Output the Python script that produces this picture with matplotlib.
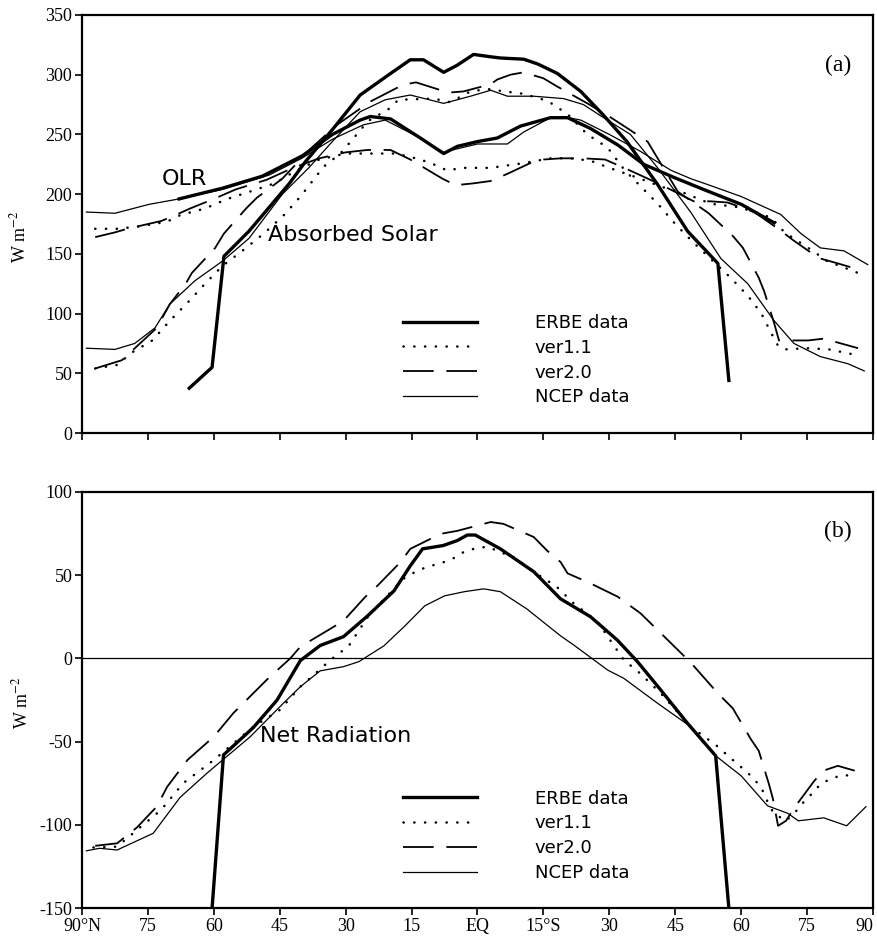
import numpy as np
import matplotlib
matplotlib.use("Agg")
import matplotlib.pyplot as plt

plt.rcParams['font.family'] = ['Liberation Serif', 'DejaVu Serif']
plt.rcParams['mathtext.fontset'] = 'stix'
plt.rcParams['axes.unicode_minus'] = False

# latitude axis: north positive, plotted from 90N (left) to 90S (right)
xtick_pos = [90, 75, 60, 45, 30, 15, 0, -15, -30, -45, -60, -75, -90]
xtick_lab = ['90°N', '75', '60', '45', '30', '15', 'EQ', '15°S', '30', '45', '60', '75', '90']
labels = ['ERBE data', 'ver1.1', 'ver2.0', 'NCEP data']

# ---- (a) OLR ----
olr_erbe_lat = [67.9, 58, 49, 39.9, 33, 26.7, 24.4, 19.8, 13, 7.7, 4.6, 0, -4.5, -9.8, -16.6, -20.5,
                -25.7, -32, -37.8, -44.7, -52.4, -60, -67.5]
olr_erbe = [196, 205, 215, 232, 250, 262, 265, 263, 247, 234, 240, 244, 247, 257, 264, 264,
            255, 241, 225, 214, 202.5, 191.5, 176]

olr_ncep_lat = [89, 82.5, 74.7, 67.9, 58, 47.4, 40, 33, 26, 21, 13, 7.7, 4.6, 0, -3, -6.8, -10.5,
                -16.6, -19.5, -23.5, -30, -37, -44, -48.5, -52.4, -60, -69, -73.6, -78, -83.4, -88.8]
olr_ncep = [185, 184, 191.5, 196, 204, 216, 230, 246, 258, 262, 247, 235, 238, 242, 242, 242, 252,
            264, 265, 262, 250, 236, 220, 213, 208, 198, 183, 167, 155, 152.5, 141]

olr_v11_lat = [87, 82, 76.8, 70.6, 67.6, 62, 56.9, 51.5, 46.2, 41.6, 36, 30, 25, 18.5, 13, 10, 7, 3,
               -3, -10.5, -16.6, -21, -25.7, -30, -37, -42, -47, -53, -59.5, -64, -67, -69, -71.5,
               -74, -76.5, -79.5, -84.5, -86.6]
olr_v11 = [171, 171, 173, 177, 182.5, 188, 196, 202.5, 209, 219, 229, 234, 234, 234, 229, 225, 220, 222,
           222, 226, 230, 230, 228, 222, 213, 206, 201, 192, 189, 184, 180, 171, 164,
           158, 152, 144, 137, 134]

olr_v20_lat = [87, 82.5, 79.7, 72, 69, 65.4, 60, 55, 48, 42, 36, 30, 25, 19.8, 15.3, 8, 5, 1, -3,
               -6.8, -12, -15, -19, -24, -29, -34, -41.7, -49.2, -53, -56.9, -63, -68.4, -72,
               -75.9, -78.1, -82, -86.6]
olr_v20 = [164, 168, 171, 177.5, 182, 188, 196, 204, 212, 222, 230, 235, 237, 237, 229, 213, 207.5, 209, 211,
           217, 226, 229, 230, 230, 229, 221, 208, 194, 194, 193, 185, 171, 161,
           151, 146, 142, 137]

# ---- (a) Absorbed solar ----
asr_erbe_lat = [65.6, 60.4, 57.7, 52, 47.4, 42.8, 39.2, 32.8, 26.7, 19.8, 15.3, 12.3, 7.7, 4.6, 0.9,
                -3, -5.2, -10.5, -13.7, -18.2, -23.5, -28.7, -34, -41, -47.8, -54.7, -57.2]
asr_erbe = [37.5, 55, 148, 169, 189, 209, 227, 255, 283, 301, 312.5, 312.5, 302, 308, 317,
            315, 314, 313, 309, 301, 286, 266, 244, 208, 169, 142, 44]

asr_ncep_lat = [89, 82.5, 78, 73.4, 70, 64.3, 58, 52, 44.4, 38.4, 32.8, 26.7, 21, 15.3, 7.7, 1.6,
                -3, -6.8, -12.8, -19.6, -24.1, -28.7, -34.8, -41, -48.5, -55.4, -61.5, -67.5,
                -72, -78, -84.3, -88]
asr_ncep = [71, 70, 75, 88, 108, 127.5, 144, 163, 200, 222, 245, 269, 279, 283, 276, 282,
            287, 282, 282, 280, 275, 264, 250, 222, 185, 146, 125, 94,
            75, 64, 58, 52]

asr_v11_lat = [87, 82, 78.6, 74, 70, 66, 62, 58, 53, 48.3, 43.9, 40.3, 35, 31.2, 27, 25, 20.3, 18,
               10, 6.2, 1.6, -2.3, -6.2, -10.5, -16, -20.5, -25, -29.6, -33.5, -37, -41, -45, -49,
               -53, -57.6, -61.5, -64.6, -66.8, -68.4, -70, -75, -80, -86.6]
asr_v11 = [54, 57, 67.5, 77.5, 94, 109, 125, 140, 154, 168, 183, 198, 223, 234, 252, 261, 271, 279,
           280, 277, 286, 288, 286, 284, 278, 267, 250, 239, 220, 207, 192, 175, 160,
           146, 130, 115, 100, 84, 73, 70, 71, 70, 65]

asr_v20_lat = [87, 80.9, 79, 73, 70, 66.4, 65, 59.7, 57.7, 52.5, 50.2, 44.4, 38, 32, 24.4, 17, 14,
               6.6, 3.2, -3, -4.5, -7.5, -10.5, -15, -18.2, -25, -30, -34.6, -38.7, -45.6, -52.6,
               -58.1, -60.4, -64, -65.2, -67.5, -68.6, -75.2, -78.8, -86.6]
asr_v20 = [54, 61, 67.5, 88, 108, 125, 134, 155, 167, 188.6, 197, 213, 238, 258, 277.5, 291.5, 293.6,
           285, 286, 292, 296, 300, 302, 297, 290, 276, 265, 254, 244, 202, 184,
           165, 155, 130, 119, 92, 77.5, 77.5, 79, 71]

# ---- (b) Net radiation ----
net_erbe_lat = [60.4, 57.8, 51, 45.6, 40.3, 35.8, 30.5, 25, 19, 15.3, 12.5, 7.8, 4.6, 2.3, 0.5, -5.2,
                -12.8, -18.9, -25.7, -31.8, -36.4, -41.7, -47.8, -54.2, -57.2]
net_erbe = [-150, -58, -41.5, -25, -1.3, 7.7, 13, 25.5, 40.5, 55.5, 65.7, 67.7, 70.7, 74, 74, 65.7,
            52, 35.7, 25, 11, -2, -19, -39, -58.5, -150]

net_ncep_lat = [89, 86, 82, 73.8, 67.7, 61.6, 51.7, 44.2, 40.3, 35.8, 30.5, 27, 21.3, 16.5, 12, 7.5,
                3, -1.4, -5.2, -11.2, -18.9, -21.9, -29.6, -33.3, -41, -48.5, -54.2, -60, -66,
                -70.6, -73, -78.8, -84, -88.4]
net_ncep = [-115.5, -114, -115, -105, -83.5, -69, -47, -27, -17, -7.5, -5, -2, 7.5, 19.5, 31.5, 37.5,
            40, 41.7, 40, 29.7, 13.5, 8, -7, -12, -27, -41, -58.5, -70.5, -88.5,
            -93, -97.5, -95.7, -100.5, -89]

net_v11_lat = [87.4, 82, 77.5, 72, 67, 60, 51, 45, 40.3, 36, 33.9, 31.7, 29.4, 27.8, 24.8, 16.9, 14.1,
               11.4, 8.4, 5.7, 3.2, 0.5, -2.3, -5.2, -8, -15, -17.8, -21.9, -27.3, -33.3, -37,
               -41.7, -48.5, -52.4, -54.7, -57, -59.2, -61.5, -63.3, -64.9, -66, -67.4, -70.2,
               -72.4, -74.3, -76.3, -78.1, -80.9, -83.4, -86.1]
net_v11 = [-113.5, -113, -103, -91, -75, -61, -41, -31, -17, -7, -2, 2.7, 7, 13.5, 25.5, 47.7, 52,
           55, 57, 59.7, 63.7, 66, 67, 63.7, 61, 48, 43.5, 33, 22, -1, -9,
           -21, -41, -48.5, -53, -58.5, -63.5, -68.7, -73.5, -79.5, -86, -93, -97.5,
           -92, -86, -80.7, -75.3, -71.7, -70, -71]

net_v20_lat = [87, 82, 77.5, 73, 70.6, 66, 60, 55.6, 48, 42.6, 40.3, 33.5, 30.5, 25.5, 22.8, 17.5,
               15.3, 8.4, 4.6, -3, -5.9, -12.8, -15.9, -18.9, -20.5, -25.7, -31.9, -37.1, -43.3,
               -48.5, -54.7, -58.1, -62.2, -64, -66.3, -67.2, -68.4, -70.2, -72, -76.5, -78.6,
               -82, -86.6]
net_v20 = [-112.5, -111, -101.5, -89, -77, -61, -47, -33, -13, 0, 7, 17.7, 22.5, 37, 43.5, 57.8,
           65.7, 74.7, 76.5, 81.8, 80.7, 72.8, 64.5, 57.8, 51, 45, 37, 27, 11,
           -2.5, -21, -30, -48.5, -55.5, -75.3, -84, -100.5, -97.5, -90, -74, -67.5,
           -64.5, -68]

sty_erbe = dict(color='black', lw=2.4, solid_joinstyle='round')
sty_v11 = dict(color='black', lw=1.8, linestyle=(0, (0.1, 4.2)), dash_capstyle='round')
sty_v20 = dict(color='black', lw=1.3, linestyle=(0, (17, 7)))
sty_ncep = dict(color='black', lw=0.9)

fig = plt.figure(figsize=(8.78, 9.46), dpi=100)
ax1 = fig.add_axes([82 / 878, 1 - 433 / 946, 791 / 878, 418 / 946])
ax2 = fig.add_axes([82 / 878, 1 - 908.3 / 946, 791 / 878, 416.6 / 946])

# panel a
h1 = ax1.plot(asr_erbe_lat, asr_erbe, **sty_erbe)[0]
h2 = ax1.plot(asr_v11_lat, asr_v11, **sty_v11)[0]
h3 = ax1.plot(asr_v20_lat, asr_v20, **sty_v20)[0]
h4 = ax1.plot(asr_ncep_lat, asr_ncep, **sty_ncep)[0]
ax1.plot(olr_erbe_lat, olr_erbe, **sty_erbe)
ax1.plot(olr_v11_lat, olr_v11, **sty_v11)
ax1.plot(olr_v20_lat, olr_v20, **sty_v20)
ax1.plot(olr_ncep_lat, olr_ncep, **sty_ncep)
ax1.set_ylim(0, 350)
ax1.set_yticks(np.arange(0, 351, 50))

# panel b
ax2.axhline(0, color='black', lw=0.9)
g1 = ax2.plot(net_erbe_lat, net_erbe, **sty_erbe)[0]
g2 = ax2.plot(net_v11_lat, net_v11, **sty_v11)[0]
g3 = ax2.plot(net_v20_lat, net_v20, **sty_v20)[0]
g4 = ax2.plot(net_ncep_lat, net_ncep, **sty_ncep)[0]
ax2.set_ylim(-150, 100)
ax2.set_yticks(np.arange(-150, 101, 50))

sans = ['DejaVu Sans']
ax1.text(71.8, 208, 'OLR', family=sans, fontsize=16)
ax1.text(47.6, 161, 'Absorbed Solar', family=sans, fontsize=16)
ax2.text(49.4, -50, 'Net Radiation', family=sans, fontsize=16)
ax1.text(-82, 308, '(a)', fontsize=17, ha='center', va='center')
ax2.text(-82, 76, '(b)', fontsize=17, ha='center', va='center')

for ax, hs in ((ax1, [h1, h2, h3, h4]), (ax2, [g1, g2, g3, g4])):
    ax.set_xlim(90, -90)
    ax.set_xticks(xtick_pos)
    ax.tick_params(direction='out', length=5, width=1.2, labelsize=13, pad=2)
    for s in ax.spines.values():
        s.set_linewidth(1.6)
    ax.set_ylabel('W m$^{-2}$', fontsize=13)
    leg = ax.legend(hs, labels, loc='upper left', bbox_to_anchor=(0.406, 0.285),
                    frameon=False, borderpad=0, borderaxespad=0, handlelength=4.1,
                    handletextpad=3.2, labelspacing=0.38, prop={'family': sans, 'size': 13})

ax1.set_xticklabels([])
ax2.set_xticklabels(xtick_lab)
ax2.get_xticklabels()[-1].set_horizontalalignment('right')
ax1.yaxis.set_label_coords(-0.066, 0.469)
ax2.yaxis.set_label_coords(-0.064, 0.493)

fig.savefig('out.png', dpi=100)
